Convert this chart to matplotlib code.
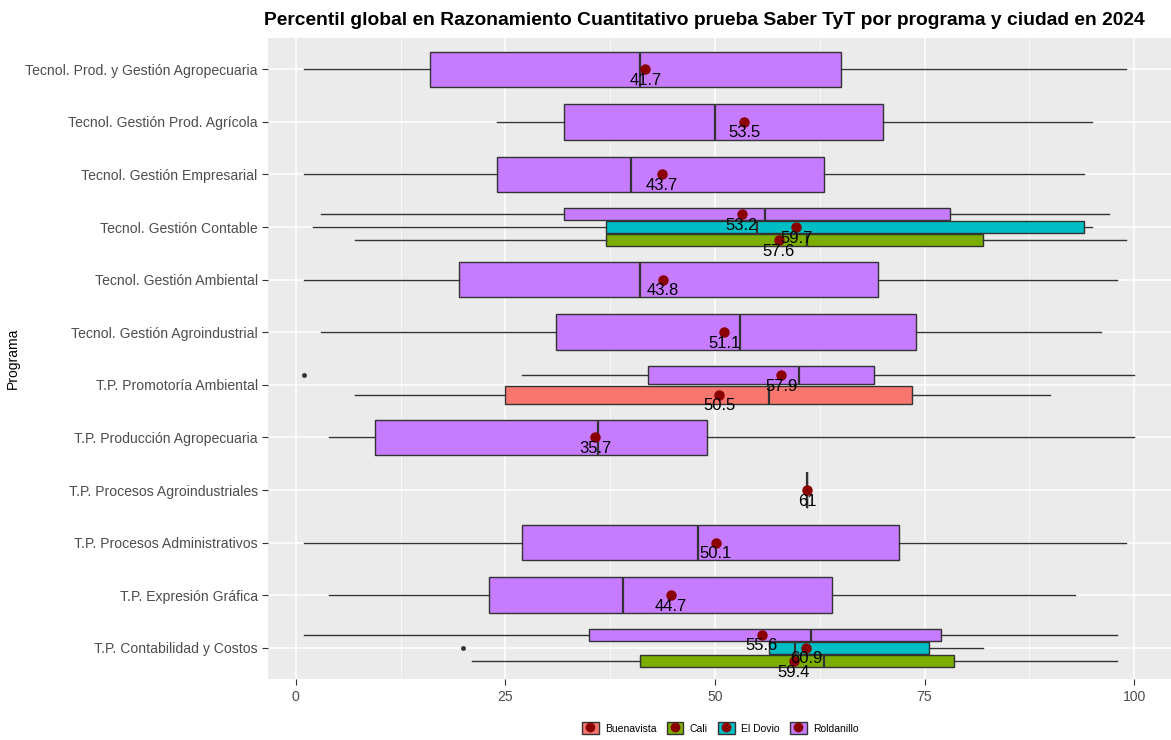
import matplotlib
matplotlib.use("Agg")
import matplotlib.pyplot as plt
from matplotlib.patches import Patch
from matplotlib.lines import Line2D
from matplotlib.legend_handler import HandlerTuple

plt.rcParams['font.family'] = ['Liberation Sans', 'DejaVu Sans']

# programas de arriba hacia abajo
programas = [
    "Tecnol. Prod. y Gestión Agropecuaria",
    "Tecnol. Gestión Prod. Agrícola",
    "Tecnol. Gestión Empresarial",
    "Tecnol. Gestión Contable",
    "Tecnol. Gestión Ambiental",
    "Tecnol. Gestión Agroindustrial",
    "T.P. Promotoría Ambiental",
    "T.P. Producción Agropecuaria",
    "T.P. Procesos Agroindustriales",
    "T.P. Procesos Administrativos",
    "T.P. Expresión Gráfica",
    "T.P. Contabilidad y Costos",
]
ciudades = ["Buenavista", "Cali", "El Dovio", "Roldanillo"]
colores = {"Buenavista": "#F8766D", "Cali": "#7CAE00",
           "El Dovio": "#00BFC4", "Roldanillo": "#C77CFF"}

# una entrada por caja (programa, ciudad)
serie_prog = [0, 1, 2, 3, 3, 3, 4, 5, 6, 6, 7, 8, 9, 10, 11, 11, 11]
serie_ciudad = ["Roldanillo", "Roldanillo", "Roldanillo",
                "Roldanillo", "El Dovio", "Cali",
                "Roldanillo", "Roldanillo",
                "Roldanillo", "Buenavista",
                "Roldanillo", "Roldanillo", "Roldanillo", "Roldanillo",
                "Roldanillo", "El Dovio", "Cali"]
bigote_min = [1, 24, 1, 3, 2, 7, 1, 3, 27, 7, 4, 61, 1, 4, 1, 56.5, 21]
q1 = [16, 32, 24, 32, 37, 37, 19.5, 31, 42, 25, 9.5, 61, 27, 23, 35, 56.5, 41]
mediana = [41, 50, 40, 56, 55, 61, 41, 53, 60, 56.5, 36, 61, 48, 39, 61.5, 59.5, 63]
q3 = [65, 70, 63, 78, 94, 82, 69.5, 74, 69, 73.5, 49, 61, 72, 64, 77, 75.5, 78.5]
bigote_max = [99, 95, 94, 97, 95, 99, 98, 96, 100, 90, 100, 61, 99, 93, 98, 82, 98]
atipicos = [[], [], [], [], [], [], [], [], [1], [], [], [], [], [], [], [20], []]
media = [41.7, 53.5, 43.7, 53.2, 59.7, 57.6, 43.8, 51.1, 57.9, 50.5, 35.7, 61,
         50.1, 44.7, 55.6, 60.9, 59.4]

fig = plt.figure(figsize=(11.71, 7.40), dpi=100)
ax = fig.add_axes([0.229, 0.082, 0.771, 0.867])
ax.set_facecolor('#EBEBEB')

n_prog = len(programas)
for k in range(len(media)):
    r = serie_prog[k]
    yc = n_prog - 1 - r
    presentes = sorted(set(serie_ciudad[m] for m in range(len(media)) if serie_prog[m] == r))
    n = len(presentes)
    i = presentes.index(serie_ciudad[k])
    w = 0.75 / n
    pos = yc - 0.375 + w * (i + 0.5)
    stats = [dict(whislo=bigote_min[k], q1=q1[k], med=mediana[k], q3=q3[k],
                  whishi=bigote_max[k], fliers=atipicos[k])]
    ax.bxp(stats, positions=[pos], widths=[0.9 * w], orientation='horizontal',
           patch_artist=True, showcaps=False,
           boxprops=dict(facecolor=colores[serie_ciudad[k]], edgecolor='#333333', linewidth=1.0),
           medianprops=dict(color='#333333', linewidth=1.6),
           whiskerprops=dict(color='#333333', linewidth=1.0),
           flierprops=dict(marker='o', markersize=3.5, markerfacecolor='#333333',
                           markeredgecolor='none'),
           manage_ticks=False, zorder=2)
    ax.plot(media[k], pos, 'o', color='#8B0000', markersize=6.5, zorder=4)
    ax.annotate(f"{media[k]:g}", (media[k], pos), xytext=(0, -8),
                textcoords='offset points', ha='center', va='center',
                fontsize=12, color='black', zorder=5)

ax.set_xlim(-3.3, 104.4)
ax.set_ylim(-0.6, n_prog - 0.4)
ax.set_xticks([0, 25, 50, 75, 100])
ax.set_xticks([12.5, 37.5, 62.5, 87.5], minor=True)
ax.set_yticks(range(n_prog))
ax.set_yticklabels(programas[::-1])
ax.grid(True, which='major', color='white', linewidth=1.1, zorder=0)
ax.grid(True, which='minor', axis='x', color='white', linewidth=0.5, zorder=0)
ax.set_axisbelow(True)
ax.tick_params(axis='both', which='major', labelsize=10.1, labelcolor='#4D4D4D',
               color='#333333', length=4)
ax.tick_params(axis='x', which='minor', length=0)
for s in ax.spines.values():
    s.set_visible(False)
ax.set_ylabel('Programa', fontsize=10, labelpad=4)

fig.text(0.2255, 0.972, 'Percentil global en Razonamiento Cuantitativo prueba Saber TyT por programa y ciudad en 2024',
         fontsize=13.9, fontweight='bold', ha='left', va='center')

handles = [(Patch(facecolor='#EBEBEB', edgecolor='none'),
            Patch(facecolor=colores[c], edgecolor='#333333'),
            Line2D([], [], marker='o', color='#8B0000', linestyle='none', markersize=6))
           for c in ciudades]
fig.legend(handles, ciudades, handler_map={tuple: HandlerTuple(ndivide=1)},
           loc='center', bbox_to_anchor=(0.615, 0.016), ncol=4, frameon=False,
           fontsize=7.5, handlelength=1.6, handleheight=1.3, columnspacing=1.0,
           handletextpad=0.6)

fig.savefig('out.png', dpi=100)
